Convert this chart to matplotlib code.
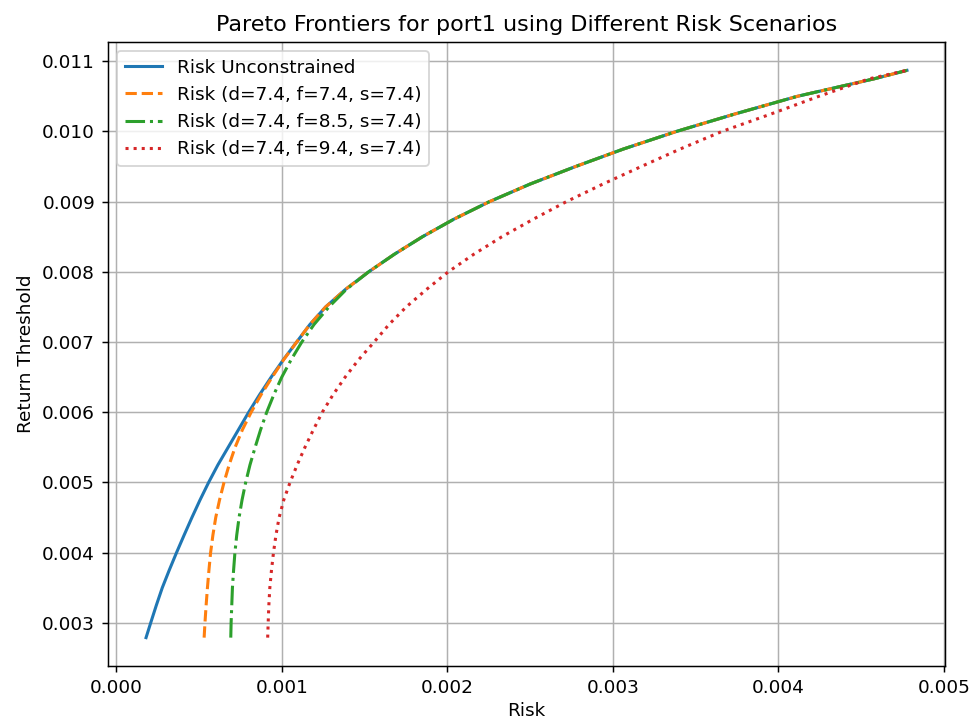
import matplotlib
matplotlib.use("Agg")
import matplotlib.pyplot as plt

# Return thresholds (y) at which the risks were read
returns = [0.00279, 0.00300, 0.00325, 0.00350, 0.00375, 0.00400, 0.00425,
           0.00450, 0.00475, 0.00500, 0.00525, 0.00550, 0.00575, 0.00600,
           0.00625, 0.00650, 0.00675, 0.00700, 0.00725, 0.00750, 0.00775,
           0.00800, 0.00825, 0.00850, 0.00875, 0.00900, 0.00925, 0.00950,
           0.00975, 0.01000, 0.01025, 0.01050, 0.01075, 0.01087]

risk_unconstrained = [0.000180, 0.000208, 0.000242, 0.000278, 0.000320, 0.000364,
                      0.000410, 0.000457, 0.000506, 0.000558, 0.000614, 0.000676,
                      0.000738, 0.000800, 0.000866, 0.000936, 0.001010, 0.001090,
                      0.001170, 0.001265, 0.001385, 0.001525, 0.001680, 0.001850,
                      0.002040, 0.002255, 0.002500, 0.002775, 0.003065, 0.003385,
                      0.003740, 0.004115, 0.004580, 0.004778]

risk_f74 = [0.000531, 0.000536, 0.000543, 0.000551, 0.000560, 0.000570,
            0.000584, 0.000601, 0.000624, 0.000651, 0.000682, 0.000718,
            0.000762, 0.000815, 0.000875, 0.000942, 0.001012, 0.001090,
            0.001170, 0.001265, 0.001385, 0.001525, 0.001680, 0.001850,
            0.002040, 0.002255, 0.002500, 0.002775, 0.003065, 0.003385,
            0.003740, 0.004115, 0.004580, 0.004778]

risk_f85 = [0.000692, 0.000694, 0.000698, 0.000702, 0.000709, 0.000717,
            0.000728, 0.000742, 0.000760, 0.000782, 0.000808, 0.000839,
            0.000872, 0.000909, 0.000952, 0.001000, 0.001057, 0.001121,
            0.001195, 0.001285, 0.001390, 0.001525, 0.001680, 0.001850,
            0.002040, 0.002255, 0.002500, 0.002775, 0.003065, 0.003385,
            0.003740, 0.004115, 0.004580, 0.004778]

risk_f94 = [0.000915, 0.000918, 0.000922, 0.000928, 0.000938, 0.000950,
            0.000965, 0.000984, 0.001012, 0.001050, 0.001093, 0.001140,
            0.001191, 0.001245, 0.001310, 0.001383, 0.001465, 0.001558,
            0.001648, 0.001752, 0.001875, 0.002006, 0.002160, 0.002330,
            0.002520, 0.002720, 0.002940, 0.003172, 0.003408, 0.003660,
            0.003958, 0.004245, 0.004550, 0.004778]

labels = ["Risk Unconstrained",
          "Risk (d=7.4, f=7.4, s=7.4)",
          "Risk (d=7.4, f=8.5, s=7.4)",
          "Risk (d=7.4, f=9.4, s=7.4)"]

DPI = 133.33
plt.rcParams["lines.linewidth"] = 1.65
fig = plt.figure(figsize=(979 / DPI, 720 / DPI), dpi=DPI)
ax = fig.add_axes([108 / 979, 1 - 666 / 720, (945 - 108) / 979, (666 - 42) / 720])

ax.plot(risk_unconstrained, returns, "-", color="C0", label=labels[0])
ax.plot(risk_f74, returns, "--", color="C1", label=labels[1])
ax.plot(risk_f85, returns, "-.", color="C2", label=labels[2])
ax.plot(risk_f94, returns, ":", color="C3", label=labels[3])

ax.set_title("Pareto Frontiers for port1 using Different Risk Scenarios")
ax.set_xlabel("Risk", labelpad=2.5)
ax.set_ylabel("Return Threshold")
ax.grid(True)
ax.legend(loc="upper left")

fig.savefig("out.png", dpi=DPI)
